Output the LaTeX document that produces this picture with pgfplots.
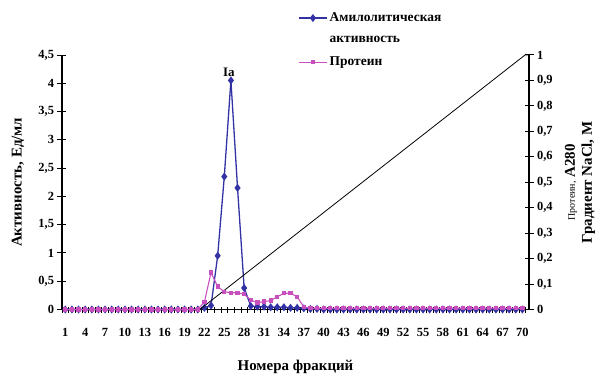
\documentclass[border=0pt]{standalone}
\usepackage{fontspec}
\setmainfont{Liberation Serif}
\usepackage{pgfplots}
\pgfplotsset{compat=1.18}
\definecolor{actblue}{RGB}{50,50,165}
\definecolor{protpink}{RGB}{200,80,190}
\newcommand{\tickfont}{\bfseries\fontsize{12.5}{13}\selectfont}
\newcommand{\labfont}{\bfseries\fontsize{15}{17}\selectfont}
\begin{document}
\begin{tikzpicture}
\begin{axis}[
  at={(0,0)}, anchor=south west,
  scale only axis, width=467bp, height=254.5bp,
  xmin=0.5, xmax=71, ymin=0, ymax=4.5,
  axis x line=bottom, axis y line=left,
  axis line style={-, line width=1.1pt, black},
  xtick={1,4,...,70},
  major x tick style={draw=none},
  minor xtick={0.5,1.5,...,70.5},
  minor x tick style={black, line width=0.6pt},
  minor tick length=6bp,
  ytick={0,0.5,1,1.5,2,2.5,3,3.5,4,4.5},
  major tick length=9bp,
  tick align=center,
  y tick style={black, line width=1pt},
  tick label style={font=\tickfont},
  xticklabel style={yshift=-11bp},
  /pgf/number format/assume math mode=true,
  /pgf/number format/use comma,
  ylabel={Активность, Ед/мл},
  ylabel style={at={(axis description cs:-0.0942,0.5)}, anchor=center, font=\labfont},
  xlabel={Номера фракций},
  xlabel style={at={(axis description cs:0.5,0)}, anchor=center, yshift=-57.5bp, font=\labfont},
  clip=false,
]
\addplot[actblue, line width=1.3pt, mark=diamond*, mark size=3pt, mark options={fill=actblue}] coordinates {
(1,0)(2,0)(3,0)(4,0)(5,0)(6,0)(7,0)(8,0)(9,0)(10,0)
(11,0)(12,0)(13,0)(14,0)(15,0)(16,0)(17,0)(18,0)(19,0)(20,0)
(21,0)(22,0.03)(23,0.07)(24,0.95)(25,2.35)(26,4.05)(27,2.15)(28,0.38)(29,0.06)(30,0.05)
(31,0.05)(32,0.04)(33,0.04)(34,0.04)(35,0.03)(36,0.03)(37,0.02)(38,0.01)(39,0.01)(40,0)
(41,0)(42,0)(43,0)(44,0)(45,0)(46,0)(47,0)(48,0)(49,0)(50,0)
(51,0)(52,0)(53,0)(54,0)(55,0)(56,0)(57,0)(58,0)(59,0)(60,0)
(61,0)(62,0)(63,0)(64,0)(65,0)(66,0)(67,0)(68,0)(69,0)(70,0)
};
\node[font=\bfseries\fontsize{13}{14}\selectfont, anchor=south, inner sep=2pt] at (axis cs:25.7,4.08) {Ia};
\end{axis}
\begin{axis}[
  at={(0,0)}, anchor=south west,
  scale only axis, width=467bp, height=254.5bp,
  xmin=0.5, xmax=71, ymin=0, ymax=1,
  axis x line=none, axis y line=right,
  axis line style={-, line width=1.1pt, black},
  ytick={0,0.1,0.2,0.3,0.4,0.5,0.6,0.7,0.8,0.9,1},
  major tick length=9bp,
  tick align=center,
  y tick style={black, line width=1pt},
  tick label style={font=\tickfont},
  /pgf/number format/assume math mode=true,
  /pgf/number format/use comma,
  ylabel={{\normalfont\fontsize{10}{11}\selectfont Протеин,} А280\\Градиент NaCl, M},
  ylabel style={at={(axis description cs:1.109,0.5)}, anchor=center, font=\labfont, align=center},
  legend style={at={(axis description cs:0.503,1.178)}, anchor=north west, draw=none, fill=none,
    font=\bfseries\fontsize{13.5}{15}\selectfont, row sep=9bp, inner sep=1pt},
  legend cell align=left,
  legend image code/.code={\draw[mark repeat=2,mark phase=2] plot coordinates {(0cm,0cm) (0.5cm,0cm) (1cm,0cm)};},
  clip=false,
]
\addlegendimage{actblue, line width=1.3pt, mark=diamond*, mark size=3pt, mark options={fill=actblue}}
\addlegendentry{Амилолитическая}
\addlegendimage{empty legend}
\addlegendentry{активность}
\addplot[black, line width=0.8pt, no marks, forget plot] coordinates {(21.3,0)(70.4,1)(71,1)};
\addplot[protpink, line width=1.1pt, mark=square*, mark size=1.6pt, mark options={fill=protpink}] coordinates {
(1,0)(2,0)(3,0)(4,0)(5,0)(6,0)(7,0)(8,0)(9,0)(10,0)
(11,0)(12,0)(13,0)(14,0)(15,0)(16,0)(17,0)(18,0)(19,0)(20,0)
(21,0)(22,0.03)(23,0.145)(24,0.09)(25,0.07)(26,0.066)(27,0.066)(28,0.06)(29,0.037)(30,0.027)
(31,0.031)(32,0.035)(33,0.05)(34,0.064)(35,0.064)(36,0.05)(37,0.01)(38,0.005)(39,0.005)(40,0.005)
(41,0.005)(42,0.005)(43,0.005)(44,0.005)(45,0.005)(46,0.005)(47,0.005)(48,0.005)(49,0.005)(50,0.005)
(51,0.005)(52,0.005)(53,0.005)(54,0.005)(55,0.005)(56,0.005)(57,0.005)(58,0.005)(59,0.005)(60,0.005)
(61,0.005)(62,0.005)(63,0.005)(64,0.005)(65,0.005)(66,0.005)(67,0.005)(68,0.005)(69,0.005)(70,0.005)
};
\addlegendentry{Протеин}
\end{axis}
\pgfresetboundingbox
\path[use as bounding box] (-62bp,-71.5bp) rectangle (544bp,309.5bp);
\end{tikzpicture}
\end{document}
